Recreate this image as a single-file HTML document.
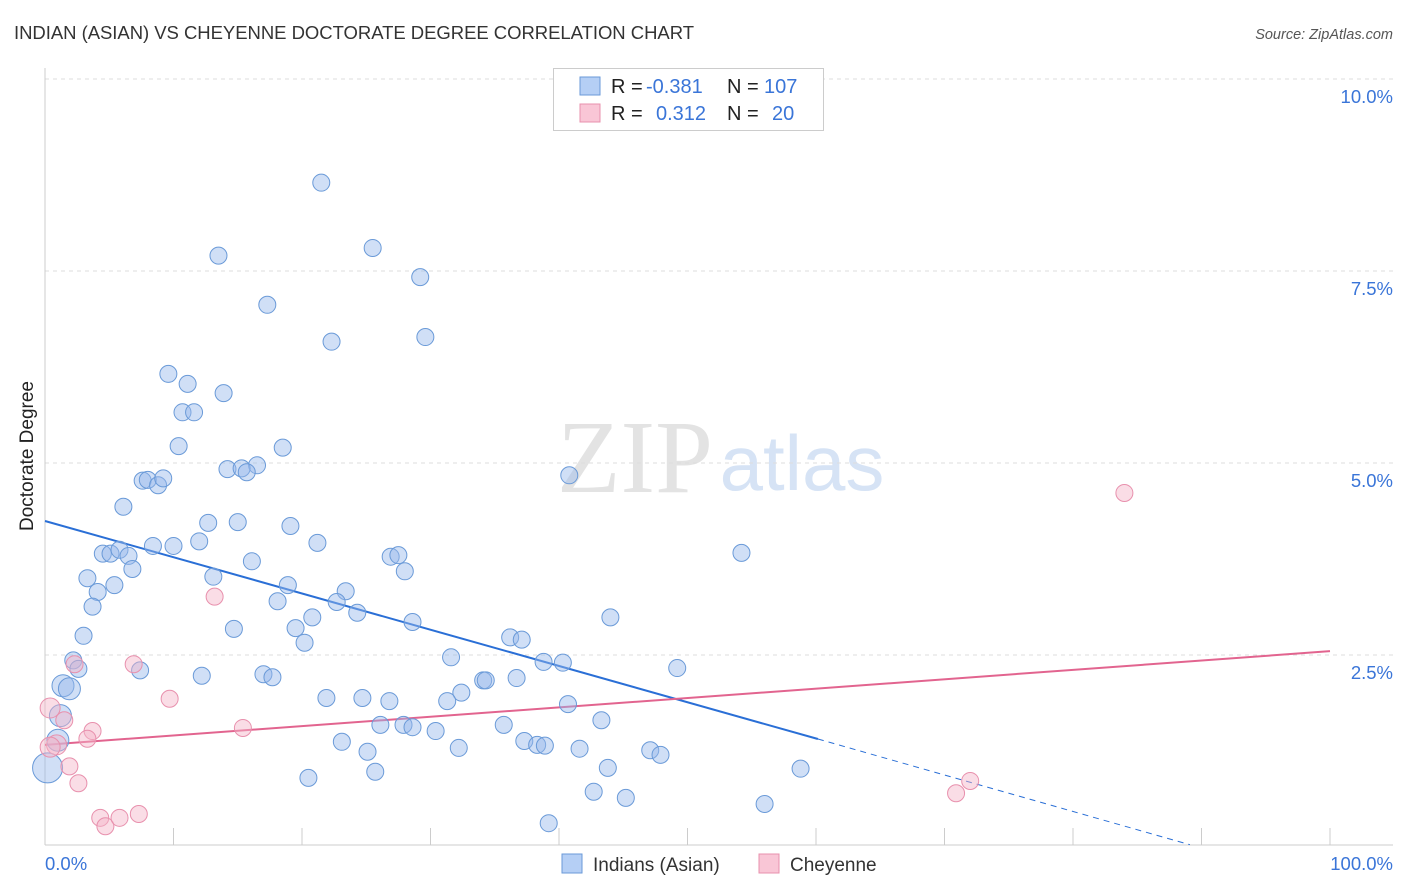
<!DOCTYPE html>
<html><head><meta charset="utf-8"><style>
body{margin:0;background:#fff;font-family:"Liberation Sans",sans-serif;}
svg{display:block}
</style></head><body>
<svg id="chart" width="1406" height="892">
<text x="14" y="39" font-size="18.5" fill="#333" textLength="680">INDIAN (ASIAN) VS CHEYENNE DOCTORATE DEGREE CORRELATION CHART</text>
<text x="1393" y="39" font-size="14.5" fill="#555" font-style="italic" text-anchor="end">Source: ZipAtlas.com</text>
<text x="33" y="456" font-size="19" fill="#222" text-anchor="middle" transform="rotate(-90 33 456)">Doctorate Degree</text>
<g><text x="635" y="492" font-size="104" fill="#e3e3e3" font-family="Liberation Serif,serif" text-anchor="middle">ZIP</text><text x="802" y="490" font-size="78" fill="#d6e3f5" text-anchor="middle">atlas</text></g>
<g id="grid"></g><g id="axes"></g><g id="trend"></g><g id="pts"></g>
<g>
<rect x="553.5" y="68.5" width="270" height="62" fill="#fff" stroke="#ccc"/>
<rect x="580" y="77" width="20" height="18" fill="#b5cff5" stroke="#6a9ad8"/>
<rect x="580" y="104" width="20" height="18" fill="#f9c6d6" stroke="#e890ad"/>
<text y="93" font-size="20" fill="#222"><tspan x="611">R = </tspan><tspan x="646" fill="#3a75d8">-0.381</tspan><tspan x="727">N = </tspan><tspan x="764" fill="#3a75d8">107</tspan></text>
<text y="120" font-size="20" fill="#222"><tspan x="611">R = </tspan><tspan x="656" fill="#3a75d8">0.312</tspan><tspan x="727">N = </tspan><tspan x="772" fill="#3a75d8">20</tspan></text>
</g>
<g>
<rect x="562" y="854" width="20" height="19" fill="#b5cff5" stroke="#6a9ad8"/>
<text x="593" y="871" font-size="19" fill="#333">Indians (Asian)</text>
<rect x="759" y="854" width="20" height="19" fill="#f9c6d6" stroke="#e890ad"/>
<text x="790" y="871" font-size="19" fill="#333">Cheyenne</text>
</g>
</svg>
<script>
const yTicks=[2.5,5.0,7.5,10.0];
const yTickLabels=["2.5%","5.0%","7.5%","10.0%"];
const xEndLabels=["0.0%","100.0%"];
const blueX=[21.5,13.5,25.5,29.2,17.3,22.3,29.6,9.6,11.1,13.9,10.7,11.6,10.4,18.5,16.5,14.2,15.3,15.7,7.6,8.0,8.8,9.2,40.8,6.1,12.7,15.0,19.1,8.4,10.0,12.0,21.2,4.5,5.1,5.8,6.5,16.1,26.9,27.5,54.2,28.0,6.8,13.1,3.3,5.4,4.1,18.9,23.4,18.1,22.7,3.7,20.8,24.3,44.0,3.0,14.7,19.5,28.6,36.2,37.1,20.2,2.2,2.6,7.4,31.6,38.8,40.3,49.2,12.2,17.0,17.7,36.7,34.1,34.3,1.4,1.9,21.9,24.7,26.8,32.4,31.3,40.7,43.3,26.1,27.9,28.6,30.4,35.7,1.2,1.0,23.1,37.3,38.3,38.9,25.1,32.2,41.6,47.1,47.9,0.2,20.5,25.7,43.8,58.8,42.7,45.2,56.0,39.2];
const blueY=[8.65,7.70,7.80,7.42,7.06,6.58,6.64,6.16,6.03,5.91,5.66,5.66,5.22,5.20,4.97,4.92,4.93,4.88,4.77,4.78,4.71,4.80,4.84,4.43,4.22,4.23,4.18,3.92,3.92,3.98,3.96,3.82,3.82,3.87,3.79,3.72,3.78,3.80,3.83,3.59,3.62,3.52,3.50,3.41,3.32,3.41,3.33,3.20,3.19,3.13,2.99,3.05,2.99,2.75,2.84,2.85,2.93,2.73,2.70,2.66,2.43,2.32,2.30,2.47,2.41,2.40,2.33,2.23,2.25,2.21,2.20,2.17,2.17,2.10,2.06,1.94,1.94,1.90,2.01,1.90,1.86,1.65,1.59,1.59,1.56,1.51,1.59,1.71,1.39,1.37,1.38,1.33,1.32,1.24,1.29,1.28,1.26,1.20,1.03,0.90,0.98,1.03,1.02,0.72,0.64,0.56,0.31];
const pinkX=[84.0,13.2,6.9,2.3,9.7,1.5,15.4,3.7,0.4,3.3,0.9,0.4,1.9,2.6,72.0,70.9,4.3,4.7,5.8,7.3];
const pinkY=[4.61,3.26,2.38,2.38,1.93,1.65,1.55,1.51,1.81,1.41,1.33,1.30,1.05,0.83,0.86,0.70,0.38,0.27,0.38,0.43];
const blueTrend=[[0,4.245],[60.15,1.406]];
const blueTrendDash=[[60.15,1.406],[89.1,0.03]];
const pinkTrend=[[0,1.33],[100,2.55]];
const NS="http://www.w3.org/2000/svg";
const X=v=>45+v*12.85, Y=v=>847-v*76.8;
function mk(tag,attrs,parent){const e=document.createElementNS(NS,tag);for(const k in attrs)e.setAttribute(k,attrs[k]);document.getElementById(parent).appendChild(e);return e;}
yTicks.forEach((t,i)=>{
 const l=mk('line',{x1:45,x2:1393,y1:Y(t),y2:Y(t),stroke:'#ddd','stroke-dasharray':'4,4'},'grid');
 
 
 const tx=mk('text',{x:1393,y:Y(t)+24,'font-size':18.5,fill:'#3a75d8','text-anchor':'end'},'grid');tx.textContent=yTickLabels[i];
 
 
});
mk('line',{x1:45,x2:1393,y1:79,y2:79,stroke:'#ddd','stroke-dasharray':'4,4'},'grid');
const ax=mk('line',{x1:45,x2:1393,y1:845,y2:845,stroke:'#ccc'},'axes');


const ay=mk('line',{x1:45,x2:45,y1:68,y2:845,stroke:'#ccc'},'axes');


for(let v=10;v<=100;v+=10){const t=mk('line',{x1:X(v),x2:X(v),y1:828,y2:845,stroke:'#ccc'},'axes');
 
 }
const l0=mk('text',{x:45,y:870,'font-size':18.5,fill:'#3a75d8'},'axes');l0.textContent=xEndLabels[0];


const l1=mk('text',{x:1393,y:870,'font-size':18.5,fill:'#3a75d8','text-anchor':'end'},'axes');l1.textContent=xEndLabels[1];


blueX.forEach((x,i)=>{const c=mk('circle',{cx:X(x),cy:Y(blueY[i]),r:x<0.5?15:(x<2?11:8.5),fill:'rgba(150,185,235,0.45)',stroke:'#6a9ad8','stroke-width':1},'pts');
 
 });
pinkX.forEach((x,i)=>{const c=mk('circle',{cx:X(x),cy:Y(pinkY[i]),r:x<1?10:8.5,fill:'rgba(245,180,200,0.45)',stroke:'#e890ad','stroke-width':1},'pts');
 
 });
const b=mk('line',{x1:X(blueTrend[0][0]),y1:Y(blueTrend[0][1]),x2:X(blueTrend[1][0]),y2:Y(blueTrend[1][1]),stroke:'#2a6fd6','stroke-width':2},'trend');


const bd=mk('line',{x1:X(blueTrendDash[0][0]),y1:Y(blueTrendDash[0][1]),x2:X(blueTrendDash[1][0]),y2:Y(blueTrendDash[1][1]),stroke:'#2a6fd6','stroke-width':1,'stroke-dasharray':'6,5'},'trend');


const p=mk('line',{x1:X(pinkTrend[0][0]),y1:Y(pinkTrend[0][1]),x2:X(pinkTrend[1][0]),y2:Y(pinkTrend[1][1]),stroke:'#e2648f','stroke-width':2},'trend');


</script>
</body></html>
